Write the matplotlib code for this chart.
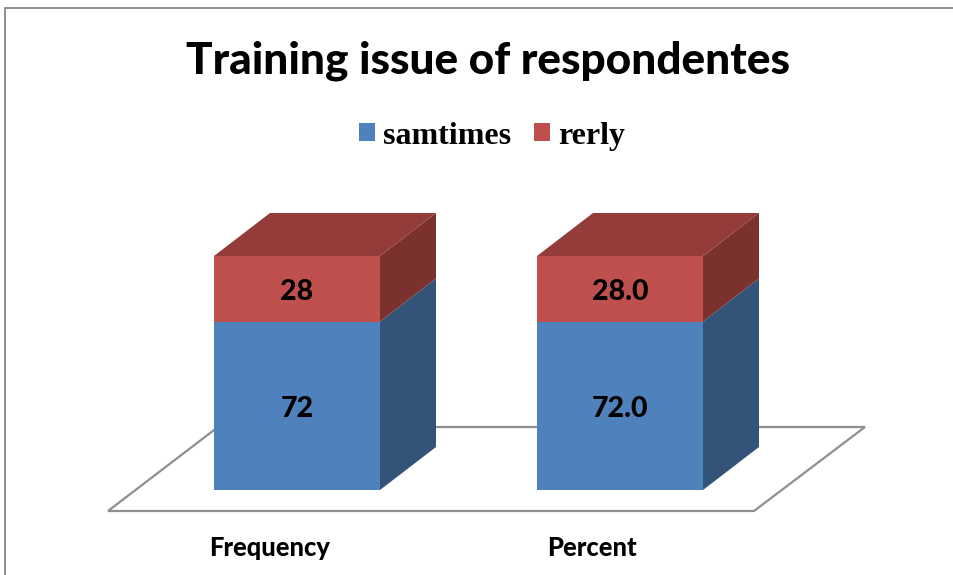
import matplotlib
matplotlib.use("Agg")
import matplotlib.pyplot as plt
from matplotlib.patches import Polygon, Patch

categories = ["Frequency", "Percent"]
series_names = ["samtimes", "rerly"]
samtimes = [72, 72.0]
rerly = [28, 28.0]
value_labels = [["72", "72.0"], ["28", "28.0"]]

front = ["#4f81bd", "#c0504d"]
side = ["#335379", "#7b322f"]
top_col = "#943c3a"

W, H = 954, 575
fig = plt.figure(figsize=(W / 100, H / 100), dpi=100)
ax = fig.add_axes([0, 0, 1, 1])

# one category = 323 px, one value unit = 2.34 px
ux, uy = 323.0, 2.34
ax.set_xlim(-297 / ux, (W - 297) / ux)
ax.set_ylim(-(H - 490) / uy, 490 / uy)
ax.axis("off")

bar_w = 166 / ux
dx = 56 / ux
dy = 43 / uy


def px(x, y):
    # pixel position in the picture -> data units
    return ((x - 297) / ux, (490 - y) / uy)


# chart frame, left and top only
ax.plot(*zip(px(5, 575), px(5, 8), px(954, 8)), color="#8c8c8c", lw=1.4, clip_on=False, zorder=1)

# floor
floor = [px(108, 511), px(754, 511), px(865, 427), px(218, 427)]
ax.add_patch(Polygon(floor, closed=True, fc="white", ec="#8f8f8f", lw=1.6, zorder=2))

for i, cat in enumerate(categories):
    x0 = i - bar_w / 2
    x1 = i + bar_w / 2
    base = 0
    for j, vals in enumerate([samtimes, rerly]):
        v = vals[i]
        b = base + v
        ax.add_patch(Polygon([(x0, base), (x1, base), (x1, b), (x0, b)], closed=True,
                             fc=front[j], ec="none", zorder=3))
        ax.add_patch(Polygon([(x1, base), (x1 + dx, base + dy), (x1 + dx, b + dy), (x1, b)], closed=True,
                             fc=side[j], ec="none", zorder=3))
        ax.text(i, base + v / 2 - 1.3, value_labels[j][i], ha="center", va="center",
                fontsize=20.5, fontweight=900, family="Lato", color="black", zorder=5)
        base = b
    ax.add_patch(Polygon([(x0, base), (x1, base), (x1 + dx, base + dy), (x0 + dx, base + dy)], closed=True,
                         fc=top_col, ec="none", zorder=3))

# category labels sit a bit left of the bars
ax.text(*px(270, 548), categories[0], ha="center", va="center", fontsize=18.4, fontweight=900, family="Lato")
ax.text(*px(592, 548), categories[1], ha="center", va="center", fontsize=18.4, fontweight=900, family="Lato")

ax.text(*px(488, 61), "Training issue of respondentes", ha="center", va="center",
        fontsize=31.8, fontweight=900, family="Lato")

handles = [Patch(fc=front[0], ec="none"), Patch(fc=front[1], ec="none")]
ax.legend(handles, series_names, ncol=2, frameon=False, loc="center",
          bbox_to_anchor=(492 / W, 1 - 136 / H), bbox_transform=fig.transFigure,
          prop={"family": "Liberation Serif", "weight": "bold", "size": 23},
          handlelength=0.5, handleheight=0.5, handletextpad=0.25, columnspacing=0.72)

fig.savefig("out.png", dpi=100)
